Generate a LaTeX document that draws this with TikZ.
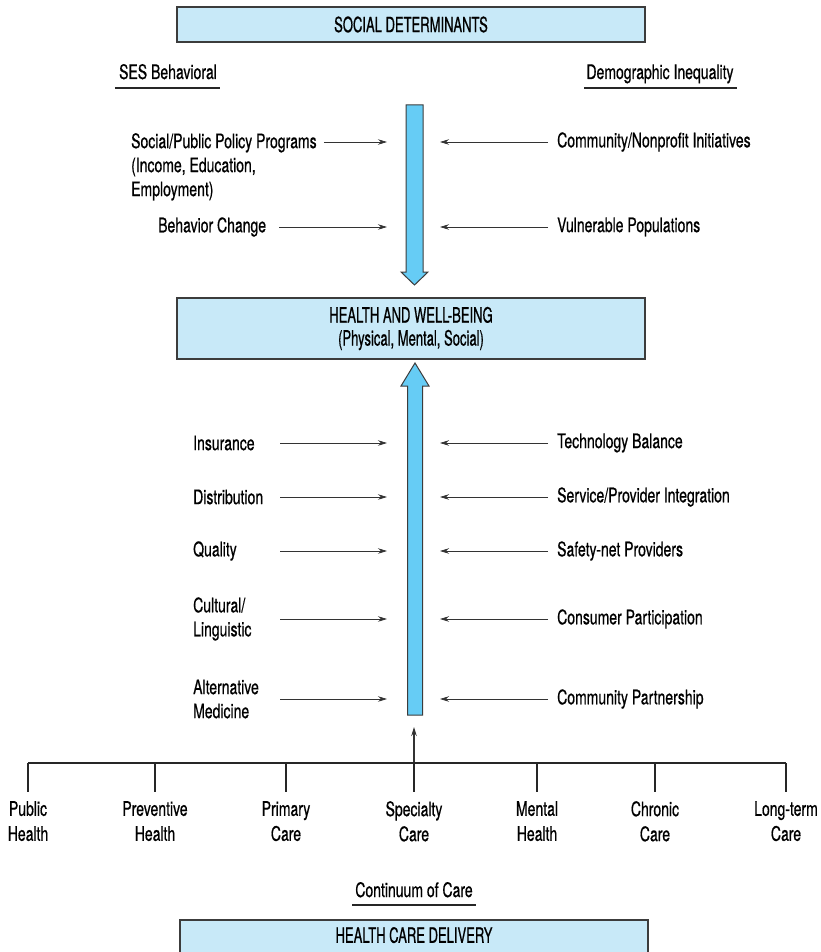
\documentclass[tikz,border=0pt]{standalone}
\usepackage{fontspec}
\setmainfont[FakeStretch=0.7, FakeBold=0.6]{TeX Gyre Heros}
\newfontfamily\capsfont[FakeStretch=0.62, FakeBold=0.6]{TeX Gyre Heros}
\usetikzlibrary{arrows.meta,positioning}

\definecolor{boxblue}{RGB}{200,233,248}
\definecolor{arrowblue}{RGB}{102,204,245}
\definecolor{edgegray}{RGB}{60,60,60}

\tikzset{
  bigbox/.style={draw=edgegray, line width=1.5pt, fill=boxblue, minimum width=468pt,
                 align=center, inner sep=0pt, font=\capsfont\fontsize{21}{23}\selectfont},
  lbl/.style={inner sep=0pt, align=left, font=\fontsize{20}{24}\selectfont},
  caretype/.style={lbl, align=center, font=\fontsize{20}{25}\selectfont},
  feed/.style={-{Stealth[length=9pt,width=5.5pt]}, line width=0.8pt, draw=black!80},
  bigarrow/.style={draw=edgegray, line width=1pt, fill=arrowblue},
  branch/.style={line width=2.8pt, draw=black!85},
  uline/.style={line width=1.2pt, draw=black!85}
}

\begin{document}
\begin{tikzpicture}[x=1pt, y=-1pt]
    \path[use as bounding box, clip] (0,0) rectangle (820,952);

    % the three boxes
    \node[bigbox, minimum height=35pt] (social) at (411,24.5) {SOCIAL DETERMINANTS};
    \node[bigbox, minimum height=61pt] (health) at (411,328.5)
         {HEALTH AND WELL-BEING\\(Physical, Mental, Social)};
    \node[bigbox, minimum height=40pt, text height=22pt, text depth=16pt, anchor=north]
         (delivery) at (414,919) {HEALTH CARE DELIVERY};

    % headings
    \node[lbl, anchor=base] (ses) at (168,79) {SES Behavioral};
    \node[lbl, anchor=base] (demo) at (660,79) {Demographic Inequality};
    \node[lbl, anchor=base] (cont) at (414,897) {Continuum of Care};
    \draw[uline] ([xshift=-4pt,yshift=-9pt]ses.base west) -- ([xshift=3pt,yshift=-9pt]ses.base east);
    \draw[uline] ([xshift=-2pt,yshift=-9pt]demo.base west) -- ([xshift=3pt,yshift=-9pt]demo.base east);
    \draw[uline] ([xshift=-3pt,yshift=-8pt]cont.base west) -- ([xshift=3pt,yshift=-8pt]cont.base east);

    % big arrows
    \draw[bigarrow] (406,105) -- (423,105) -- (423,272) -- (428,272) -- (414.5,285)
                    -- (401,272) -- (406,272) -- cycle;
    \draw[bigarrow] (407.5,715) -- (422.5,715) -- (422.5,386) -- (429,386) -- (415,363)
                    -- (401,386) -- (407.5,386) -- cycle;

    % social determinants side
    \node[lbl, anchor=north west] (policy) at (131,133)
         {Social/Public Policy Programs\\(Income, Education,\\Employment)};
    \node[lbl, anchor=west] (behav) at (158,227) {Behavior Change};
    \node[lbl, anchor=west] (commu) at (557,142) {Community/Nonprofit Initiatives};
    \node[lbl, anchor=west] (vulner) at (557,227) {Vulnerable Populations};

    % health care delivery side
    \node[lbl, anchor=west] (insur) at (193,443) {Insurance};
    \node[lbl, anchor=west] (distr) at (193,497) {Distribution};
    \node[lbl, anchor=west] (qual) at (193,551) {Quality};
    \node[lbl, anchor=west] (cult) at (193,619) {Cultural/\\Linguistic};
    \node[lbl, anchor=west] (altern) at (193,699) {Alternative\\Medicine};
    \node[lbl, anchor=west] (techn) at (557,443) {Technology Balance};
    \node[lbl, anchor=west] (integr) at (557,497) {Service/Provider Integration};
    \node[lbl, anchor=west] (safety) at (557,551) {Safety-net Providers};
    \node[lbl, anchor=west] (consum) at (557,619) {Consumer Participation};
    \node[lbl, anchor=west] (partn) at (557,699) {Community Partnership};

    % feeding arrows
    \path ([xshift=7pt]policy.north east) coordinate (policy-e);
    \coordinate (policy-s) at (policy-e |- 0,142);
    \coordinate (policy-t) at (387,142);
    \draw[feed] (policy-s) -- (policy-t);
    \foreach \name/\from/\y in {behav/279/227, insur/280/443, distr/280/497,
                                qual/280/551, cult/280/619, altern/280/699} {
      \coordinate (\name-s) at (\from,\y);
      \coordinate (\name-t) at (387,\y);
      \draw[feed] (\name-s) -- (\name-t);
    }
    \foreach \name/\y in {commu/142, vulner/227, techn/443, integr/497,
                          safety/551, consum/619, partn/699} {
      \coordinate (\name-s) at (548,\y);
      \coordinate (\name-t) at (440,\y);
      \draw[feed] (\name-s) -- (\name-t);
    }

    % continuum of care
    \coordinate (trunk) at (414,763);
    \coordinate (trunk-t) at (414,727);
    \draw[feed, line width=1.2pt] (trunk) -- (trunk-t);
    \draw[branch] (28,763) -- (786,763);
    \foreach \x/\txt [count=\i] in {28/Public\\Health, 155/Preventive\\Health, 286/Primary\\Care,
                                    414/Specialty\\Care, 537/Mental\\Health, 655/Chronic\\Care,
                                    786/Long-term\\Care} {
      \draw[branch] (\x,763) -- (\x,792);
      \node[caretype, anchor=north] (care-\i) at (\x,801) {\txt};
    }
\end{tikzpicture}
\end{document}
